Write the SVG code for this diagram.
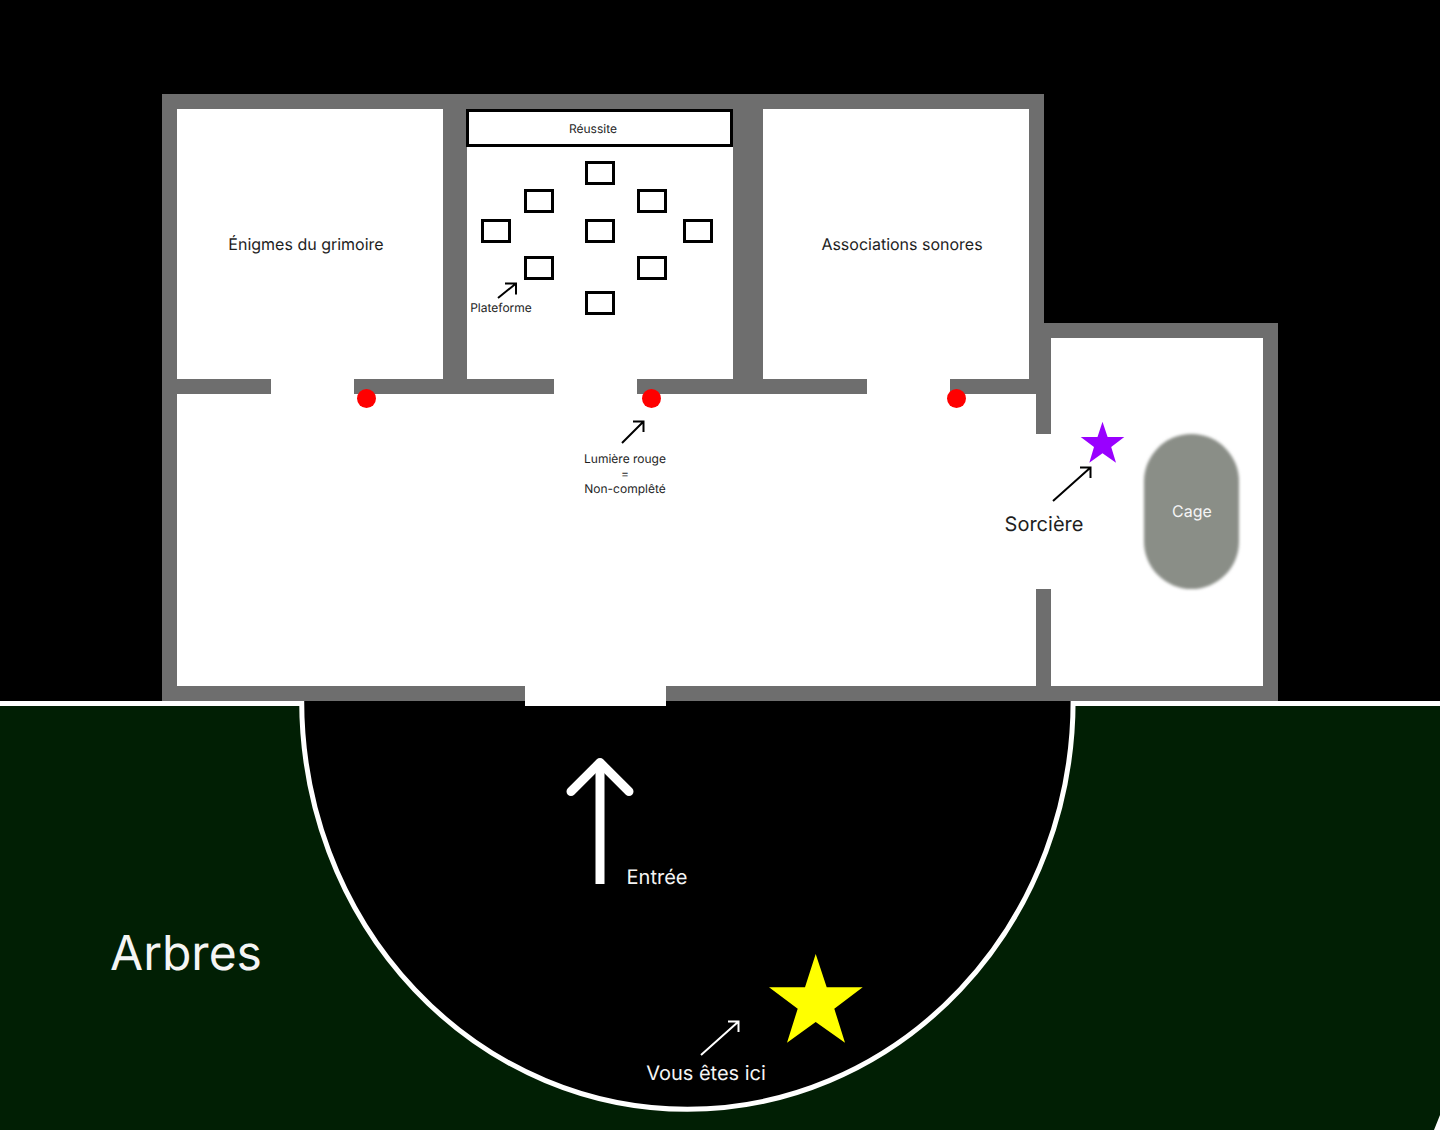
<svg xmlns="http://www.w3.org/2000/svg" width="1440" height="1130" viewBox="0 0 1440 1130">
<style>
text{font-family:Inter,"Noto Sans","Liberation Sans",sans-serif;text-anchor:middle;text-rendering:geometricPrecision}
.dark{fill:#1e1e1e}
.light{fill:#f5f5f5}
.wall{fill:#6e6e6e}
.room{fill:#fff}
.plat{fill:#fff;stroke:#000;stroke-width:3}
.dot{fill:#f00}
.ln{fill:none;stroke:#000;stroke-width:2}
.lw{fill:none;stroke:#fff;stroke-width:2}
</style>
<defs><filter id="blur" x="-10%" y="-10%" width="120%" height="120%"><feGaussianBlur stdDeviation="1.5"/></filter></defs>
<rect width="1440" height="1130" fill="#000"/>
<g id="forest">
<rect x="0" y="701" width="1440" height="429" fill="#011f04"/>
<rect x="0" y="701" width="304" height="5" fill="#fff"/>
<rect x="1071" y="701" width="369" height="5" fill="#fff"/>
<path d="M301.700 701A385.700 408.500 0 0 0 1073.100 701" fill="#000" stroke="#fff" stroke-width="5"/>
<path d="M1440 1115L1434 1130H1440Z" fill="#fff"/>
<text class="light" x="186" y="970" font-size="48">Arbres</text>
</g>
<g id="building">
<rect class="wall" x="162" y="94" width="882" height="607"/>
<rect class="wall" x="1036" y="323" width="242" height="378"/>
<rect class="room" x="177" y="109" width="266" height="270"/>
<rect class="room" x="467" y="109" width="266" height="270"/>
<rect class="room" x="763" y="109" width="266" height="270"/>
<rect class="room" x="1051" y="338" width="212" height="348"/>
<rect class="room" x="177" y="394" width="859" height="292"/>
<rect class="room" x="1036" y="434" width="15" height="155"/>
<rect class="room" x="271" y="379" width="83" height="15"/>
<rect class="room" x="554" y="379" width="83" height="15"/>
<rect class="room" x="867" y="379" width="83" height="15"/>
<rect class="room" x="525" y="686" width="141" height="20"/>
</g>
<g id="room-grimoire"><text class="dark" x="306" y="250" font-size="16">Énigmes du grimoire</text></g>
<g id="room-sonores"><text class="dark" x="902" y="250" font-size="16">Associations sonores</text></g>
<g id="reussite"><rect x="467.500" y="110.500" width="264" height="35" fill="#fff" stroke="#000" stroke-width="3"/><text class="dark" x="593" y="133" font-size="12">Réussite</text></g>
<g id="platforms">
<rect class="plat" x="586.500" y="162.500" width="27" height="21"/>
<rect class="plat" x="525.500" y="190.500" width="27" height="21"/>
<rect class="plat" x="638.500" y="190.500" width="27" height="21"/>
<rect class="plat" x="482.500" y="220.500" width="27" height="21"/>
<rect class="plat" x="586.500" y="220.500" width="27" height="21"/>
<rect class="plat" x="684.500" y="220.500" width="27" height="21"/>
<rect class="plat" x="525.500" y="257.500" width="27" height="21"/>
<rect class="plat" x="638.500" y="257.500" width="27" height="21"/>
<rect class="plat" x="586.500" y="292.500" width="27" height="21"/>
</g>
<g id="lights">
<circle class="dot" cx="366.500" cy="398.500" r="9.500"/>
<circle class="dot" cx="651.500" cy="398.500" r="9.500"/>
<circle class="dot" cx="956.500" cy="398.500" r="9.500"/>
</g>
<g id="connectors">
<path class="ln" d="M498 298L516 283.500M505 283.500H516V294.500"/>
<path class="ln" d="M622 443L643.500 421.500M633 421.500H643.500V432"/>
<path class="ln" d="M1053 501L1090.500 467.500M1080 467.500H1090.500V478"/>
<path class="lw" d="M701 1055L738.500 1021.500M728 1021.500H738.500V1032"/>
<path d="M600 884V763" fill="none" stroke="#fff" stroke-width="9"/>
<path d="M571 791.500L600 762.500L629 791.500" fill="none" stroke="#fff" stroke-width="9" stroke-linecap="round" stroke-linejoin="round"/>
</g>
<g id="plateforme-label"><text class="dark" x="501" y="312" font-size="12">Plateforme</text></g>
<g id="lumiere-label">
<text class="dark" x="625" y="463" font-size="12">Lumière rouge</text>
<text class="dark" x="625" y="478" font-size="12">=</text>
<text class="dark" x="625" y="493" font-size="12">Non-complêté</text>
</g>
<g id="sorciere"><polygon points="1102.500,421.700 1107.600,437 1124.300,437 1111.200,447.100 1116,462.700 1102.500,453.300 1089.300,462.700 1094,447.100 1080.700,437 1097.500,437" fill="#9900ff"/><text class="dark" x="1044" y="531" font-size="20">Sorcière</text></g>
<g id="cage"><rect x="1144" y="434" width="95" height="155" rx="47.500" fill="#8a8e87" filter="url(#blur)"/><text class="light" x="1192" y="517" font-size="16">Cage</text></g>
<g id="entree"><text class="light" x="657" y="884" font-size="20">Entrée</text></g>
<g id="vous"><polygon points="815.700,954 826.700,987.300 862.700,987.300 834.300,1008.700 845,1042.700 815.700,1022 787,1042.700 797.700,1008.700 769,987.300 805,987.300" fill="#ff0"/><text class="light" x="706" y="1080" font-size="20">Vous êtes ici</text></g>
</svg>
